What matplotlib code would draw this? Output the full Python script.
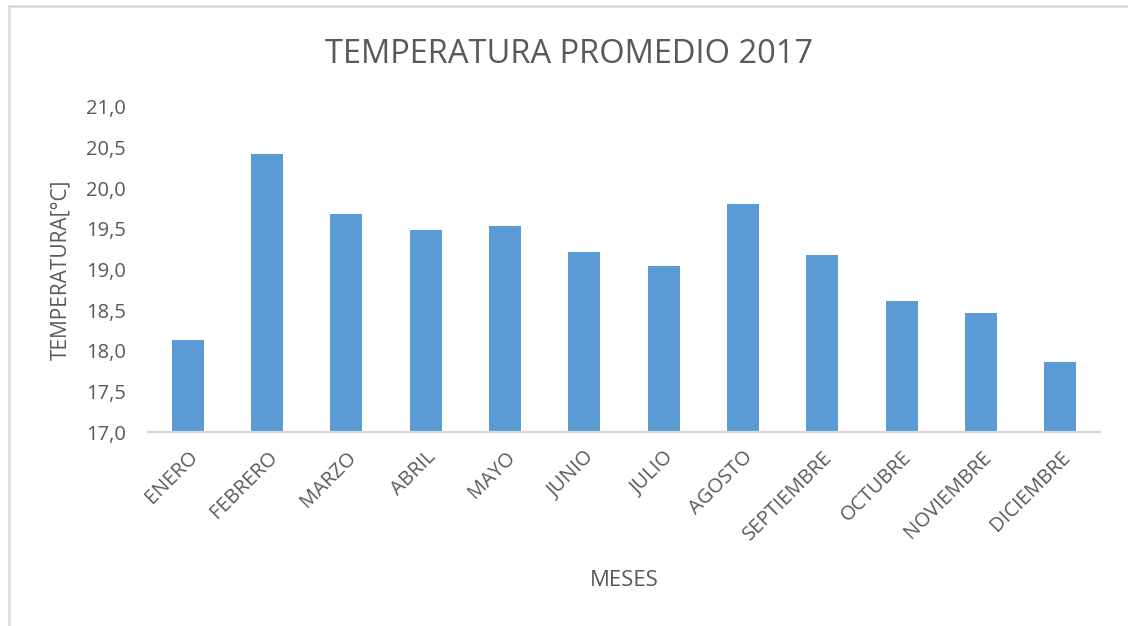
import matplotlib
matplotlib.use("Agg")
import matplotlib.pyplot as plt
from matplotlib.lines import Line2D
from matplotlib.ticker import FuncFormatter, MultipleLocator

plt.rcParams["font.family"] = ["Open Sans", "DejaVu Sans"]

TXT = "#595959"
BAR = "#5b9bd5"
LINE = "#d9d9d9"

meses = ["ENERO", "FEBRERO", "MARZO", "ABRIL", "MAYO", "JUNIO", "JULIO",
         "AGOSTO", "SEPTIEMBRE", "OCTUBRE", "NOVIEMBRE", "DICIEMBRE"]
temperatura = [18.13, 20.42, 19.68, 19.48, 19.54, 19.21, 19.04,
               19.80, 19.18, 18.61, 18.46, 17.86]

W, H = 1128, 626
fig = plt.figure(figsize=(W / 100, H / 100), dpi=100)
ax = fig.add_axes([0.1312, 0.3099, 0.844, 0.5192])

x = range(len(meses))
ax.bar(x, temperatura, width=0.4, color=BAR, zorder=2)
ax.set_xlim(-0.5, len(meses) - 0.5)
ax.set_ylim(17.0, 21.0)
ax.yaxis.set_major_locator(MultipleLocator(0.5))
ax.yaxis.set_major_formatter(FuncFormatter(lambda v, _: f"{v:.1f}".replace(".", ",")))

ax.set_xticks(list(x))
ax.set_xticklabels(meses, rotation=45, ha="right", rotation_mode="anchor")
ax.tick_params(axis="both", length=0, labelsize=14.5, colors=TXT)
ax.tick_params(axis="x", pad=11)
ax.tick_params(axis="y", pad=16)

for s in ["top", "right", "left"]:
    ax.spines[s].set_visible(False)
ax.spines["bottom"].set_color(LINE)
ax.spines["bottom"].set_linewidth(1.6)
ax.spines["bottom"].set_zorder(3)

fig.text(0.5044, 1 - 63 / H, "TEMPERATURA PROMEDIO 2017", fontsize=23.5,
         color=TXT, ha="center", va="baseline")
ax.set_ylabel("TEMPERATURA[°C]", fontsize=15, color=TXT)
ax.yaxis.set_label_coords(-0.08, 0.5)
ax.set_xlabel("MESES", fontsize=16, color=TXT)
ax.xaxis.set_label_coords(0.5, -0.425)

# chart frame edges
fig.add_artist(Line2D([9 / W, 1], [1 - 6 / H, 1 - 6 / H], color=LINE, lw=1.8,
                      transform=fig.transFigure))
fig.add_artist(Line2D([9 / W, 9 / W], [0, 1 - 6 / H], color=LINE, lw=1.8,
                      transform=fig.transFigure))

fig.savefig("out.png", dpi=100)
